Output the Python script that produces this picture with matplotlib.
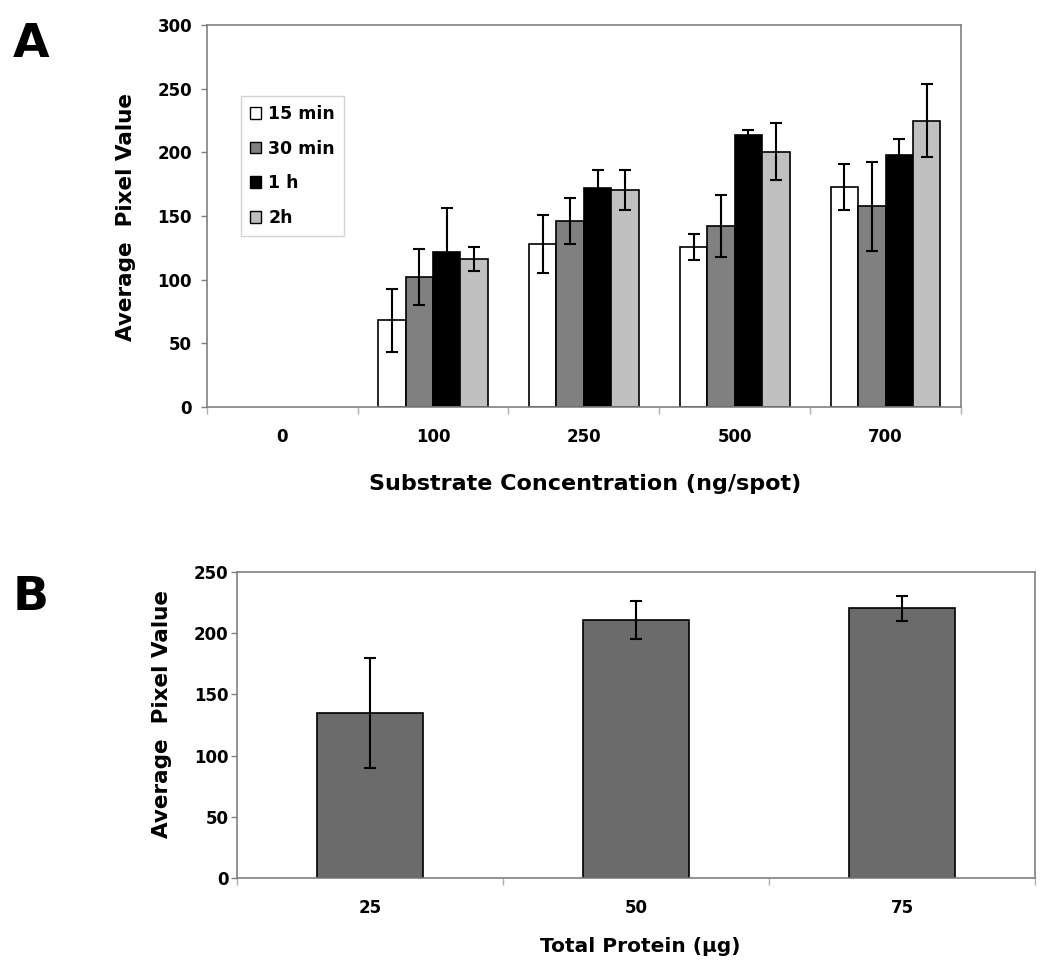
import numpy as np
import matplotlib
matplotlib.use("Agg")
import matplotlib.pyplot as plt
from matplotlib.ticker import FixedLocator
from matplotlib.patches import Patch

# ---------------- data ----------------
conc_labels = ["0", "100", "250", "500", "700"]
series_names = ["15 min", "30 min", "1 h", "2h"]
vals_15min = [0, 68, 128, 125.5, 173]
err_15min = [0, 25, 23, 10, 18]
vals_30min = [0, 102, 146, 142, 157.5]
err_30min = [0, 22, 18, 24.5, 35]
vals_1h = [0, 121.5, 172, 213.5, 198]
err_1h = [0, 35, 14, 3.7, 12.5]
vals_2h = [0, 116, 170.5, 200.5, 225]
err_2h = [0, 9.5, 15.5, 22.5, 29]

protein_labels = ["25", "50", "75"]
protein_vals = [135, 211, 220]
protein_err = [45, 15.5, 10]

# ---------------- style ----------------
plt.rcParams["font.family"] = ["DejaVu Sans"]
plt.rcParams["font.weight"] = "bold"

W, H = 1050, 974
fig = plt.figure(figsize=(W / 100, H / 100), dpi=100)
fig.patch.set_facecolor("white")


def px_rect(l, t, r, b):
    return [l / W, 1 - b / H, (r - l) / W, (b - t) / H]


spine_col = "#808080"

# ---------------- panel A ----------------
axA = fig.add_axes(px_rect(206.7, 25, 961, 407))
x = np.arange(len(conc_labels))
bw = 0.182
series_vals = [vals_15min, vals_30min, vals_1h, vals_2h]
series_errs = [err_15min, err_30min, err_1h, err_2h]
colors = ["white", "#808080", "black", "#c0c0c0"]
handles = []
for i, (v, e, c, n) in enumerate(zip(series_vals, series_errs, colors, series_names)):
    v = np.array(v, float)
    e = np.array(e, float)
    xs = x + (i - 1.5) * bw
    bars = axA.bar(xs, v, width=bw, color=c, edgecolor="black", linewidth=1.2,
                   zorder=2)
    for p, val in zip(bars.patches, v):
        if val == 0:
            p.set_visible(False)
    handles.append(Patch(facecolor=c, edgecolor="black", linewidth=1.0, label=n))
    m = v > 0
    axA.errorbar(xs[m], v[m], yerr=e[m], fmt="none", ecolor="black",
                 elinewidth=1.5, capsize=4.5, capthick=1.5, zorder=3)

axA.set_xlim(-0.5, len(conc_labels) - 0.5)
axA.set_ylim(0, 300)
axA.set_yticks(np.arange(0, 301, 50))
axA.set_xticks(x)
axA.set_xticklabels(conc_labels)
axA.xaxis.set_minor_locator(FixedLocator(np.arange(-0.5, len(conc_labels), 1.0)))
axA.tick_params(axis="x", which="major", length=0, pad=15, labelsize=12)
axA.tick_params(axis="x", which="minor", length=5, color="#b0b0b0", width=1)
axA.tick_params(axis="y", length=4.5, color=spine_col, width=1, pad=6, labelsize=12)
for s in axA.spines.values():
    s.set_color(spine_col)
    s.set_linewidth(1.2)

leg = axA.legend(handles=handles, loc="upper left", bbox_to_anchor=(0.0455, 0.814),
                 borderaxespad=0, frameon=True, fancybox=False, fontsize=12.5,
                 handlelength=0.67, handleheight=0.67, handletextpad=0.4,
                 labelspacing=0.97, borderpad=0.5)
leg.get_frame().set_edgecolor("#c8c8c8")
leg.get_frame().set_linewidth(1.0)

fig.text(126 / W, 1 - 217 / H, "Average  Pixel Value", rotation=90,
         ha="center", va="center", fontsize=15.5, fontweight="bold")
fig.text(585 / W, 1 - 484 / H, "Substrate Concentration (ng/spot)",
         ha="center", va="center", fontsize=16, fontweight="bold")
fig.text(13 / W, 1 - 22 / H, "A", ha="left", va="top", fontsize=34,
         fontweight="bold")

# ---------------- panel B ----------------
axB = fig.add_axes(px_rect(237.3, 571.7, 1035, 878.3))
xb = np.arange(len(protein_labels))
axB.bar(xb, protein_vals, width=0.40, color="#6b6b6b", edgecolor="black",
        linewidth=1.2, zorder=2)
axB.errorbar(xb, protein_vals, yerr=protein_err, fmt="none", ecolor="black",
             elinewidth=1.5, capsize=4.5, capthick=1.5, zorder=3)
axB.set_xlim(-0.5, len(protein_labels) - 0.5)
axB.set_ylim(0, 250)
axB.set_yticks(np.arange(0, 251, 50))
axB.set_xticks(xb)
axB.set_xticklabels(protein_labels)
axB.xaxis.set_minor_locator(FixedLocator(np.arange(-0.5, len(protein_labels), 1.0)))
axB.tick_params(axis="x", which="major", length=0, pad=15, labelsize=12)
axB.tick_params(axis="x", which="minor", length=5, color="#b0b0b0", width=1)
axB.tick_params(axis="y", length=4.5, color=spine_col, width=1, pad=2, labelsize=12)
for s in axB.spines.values():
    s.set_color(spine_col)
    s.set_linewidth(1.2)

fig.text(162 / W, 1 - 714 / H, "Average  Pixel Value", rotation=90,
         ha="center", va="center", fontsize=15.5, fontweight="bold")
fig.text(640 / W, 1 - 947 / H, "Total Protein (\u03bcg)",
         ha="center", va="center", fontsize=14.5, fontweight="bold")
fig.text(13 / W, 1 - 575 / H, "B", ha="left", va="top", fontsize=34,
         fontweight="bold")

fig.savefig("out.png", dpi=100, facecolor="white")
